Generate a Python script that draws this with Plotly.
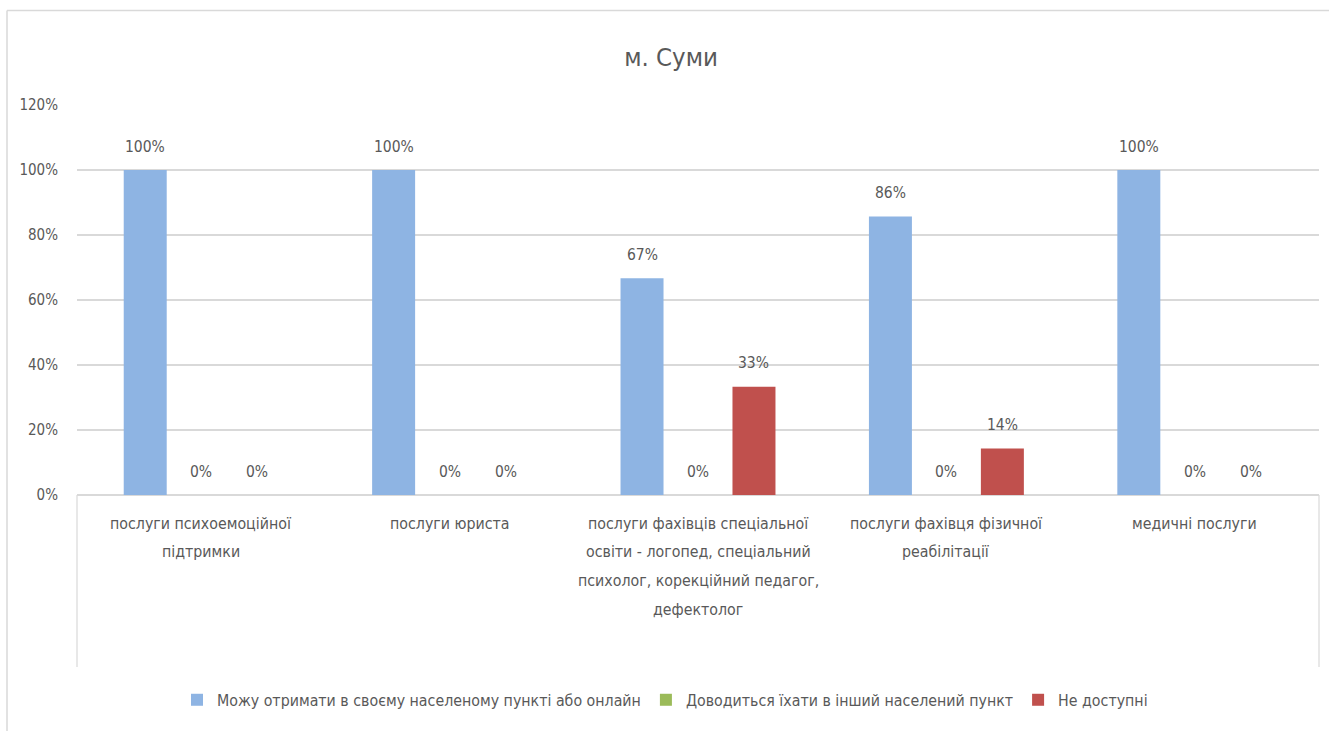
import plotly.graph_objects as go

categories = [
    "послуги психоемоційної<br>підтримки",
    "послуги юриста",
    "послуги фахівців спеціальної<br>освіти - логопед, спеціальний<br>психолог, корекційний педагог,<br>дефектолог",
    "послуги фахівця фізичної<br>реабілітації",
    "медичні послуги",
]
series_names = [
    "Можу отримати в своєму населеному пункті або онлайн",
    "Доводиться їхати в інший населений пункт",
    "Не доступні",
]
local_online = [1.0, 1.0, 0.667, 0.857, 1.0]
travel = [0.0, 0.0, 0.0, 0.0, 0.0]
unavailable = [0.0, 0.0, 0.333, 0.143, 0.0]
values = [local_online, travel, unavailable]
colors = ["#8EB4E3", "#9BBB59", "#C0504D"]
y_ticks = [0, 0.2, 0.4, 0.6, 0.8, 1.0, 1.2]

FONT = "DejaVu Sans Condensed, Liberation Sans, Arial, sans-serif"
TXT = "#595959"
GRID = "#D9D9D9"

W, H = 1329, 731
L, R, T, B = 77, W - 1319, 105, H - 495
plot_w = W - L - R
plot_h = H - T - B
BARGAP = 0.324
n_series = len(values)
slot_px = plot_w / len(categories) * (1 - BARGAP) / n_series


def px_x(p):
    """pixel x -> paper x"""
    return (p - L) / plot_w


def px_y(p):
    """pixel y -> paper y"""
    return (H - B - p) / plot_h


fig = go.Figure()
for name, vals, col in zip(series_names, values, colors):
    fig.add_trace(go.Bar(
        x=categories, y=vals, name=name, marker_color=col,
        marker_line_width=0, hoverinfo="skip",
    ))

annotations = []
for i, vals in enumerate(values):
    for c, v in zip(categories, vals):
        annotations.append(dict(
            x=c, y=v, xref="x", yref="y", text=f"{v:.0%}", showarrow=False,
            xshift=(i - (n_series - 1) / 2) * slot_px, yshift=23.5, yanchor="middle",
            font=dict(family=FONT, size=15.5, color=TXT),
        ))

LINE_STEP = 28.7
for c in categories:
    for k, line in enumerate(c.split("<br>")):
        annotations.append(dict(
            x=c, xref="x", yref="paper", y=px_y(523 + k * LINE_STEP), text=line,
            showarrow=False, yanchor="middle", xanchor="center",
            font=dict(family=FONT, size=15.8, color=TXT),
        ))

shapes = [
    dict(type="line", xref="paper", yref="paper", x0=px_x(7), x1=px_x(W),
         y0=px_y(10.5), y1=px_y(10.5), line=dict(color=GRID, width=1.5), layer="below"),
    dict(type="line", xref="paper", yref="paper", x0=px_x(7), x1=px_x(7),
         y0=px_y(10.5), y1=px_y(H), line=dict(color=GRID, width=1.5), layer="below"),
    dict(type="line", xref="paper", yref="paper", x0=0, x1=0, y0=0, y1=px_y(667),
         line=dict(color=GRID, width=1.2)),
    dict(type="line", xref="paper", yref="paper", x0=1, x1=1, y0=0, y1=px_y(667),
         line=dict(color=GRID, width=1.2)),
]

fig.update_layout(
    width=W, height=H,
    margin=dict(l=L, r=R, t=T, b=B),
    paper_bgcolor="white", plot_bgcolor="white",
    title=dict(text="м. Суми", x=671 / W, xanchor="center",
               y=1 - 57 / H, yanchor="middle",
               font=dict(family=FONT, size=25.5, color=TXT)),
    barmode="group", bargap=BARGAP, bargroupgap=0.232,
    font=dict(family=FONT, size=15.8, color=TXT),
    showlegend=True,
    legend=dict(orientation="h", x=px_x(665), xanchor="center", y=px_y(700), yanchor="middle",
                font=dict(family=FONT, size=15.8, color=TXT), itemclick=False,
                itemdoubleclick=False),
    annotations=annotations,
    shapes=shapes,
)
fig.update_xaxes(showgrid=False, showline=False, ticks="", showticklabels=False,
                 fixedrange=True)
fig.update_yaxes(range=[0, 1.2], tickvals=y_ticks, tickformat=".0%", showgrid=True,
                 gridcolor=GRID, gridwidth=1.5, zeroline=True, zerolinecolor=GRID,
                 zerolinewidth=1.5, showline=False, ticks="", ticklabelstandoff=18,
                 tickfont=dict(family=FONT, size=15, color=TXT), fixedrange=True)

fig.write_html(
    "out.html",
    config={"displayModeBar": False},
    post_script="document.body.style.margin='0';document.body.style.overflow='hidden';",
)
